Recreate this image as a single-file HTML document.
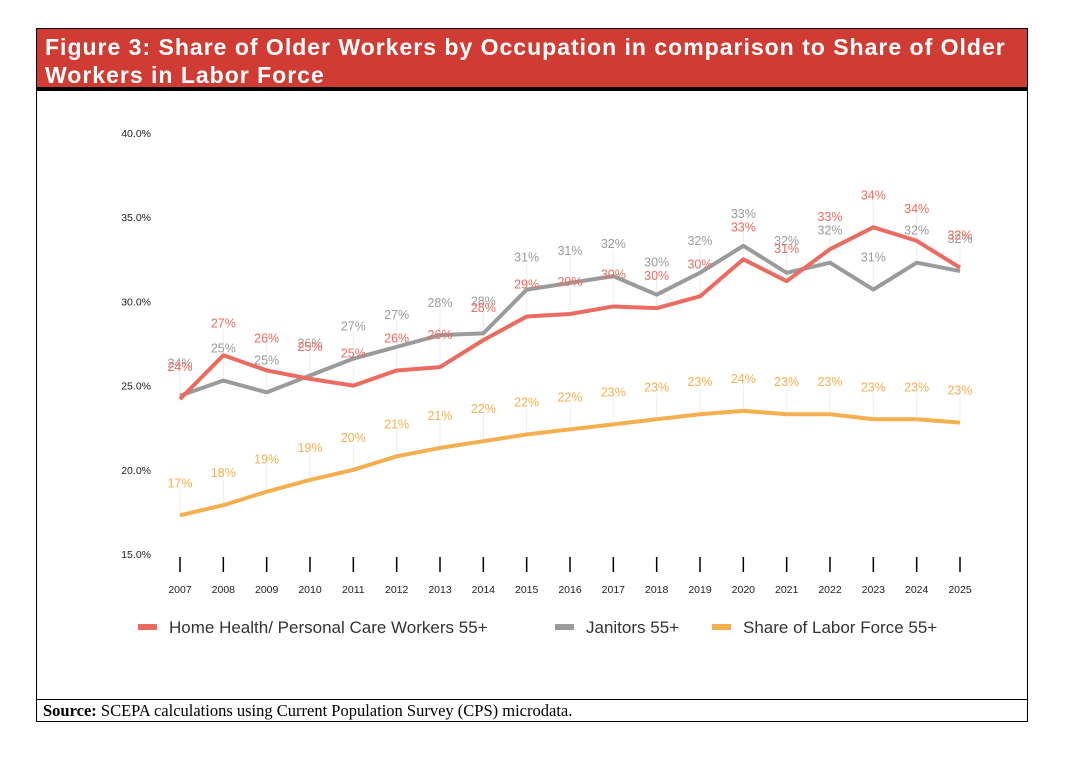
<!DOCTYPE html>
<html><head><meta charset="utf-8"><style>
body{margin:0;width:1068px;height:762px;background:#fff;overflow:hidden;font-family:"Liberation Sans",sans-serif}
#frame{position:absolute;left:36px;top:28px;width:990px;height:692px;border:1.5px solid #000;}
#hdr{position:absolute;left:0;top:0;width:990px;height:62px;background:#d03c33;border-bottom:4px solid #000;color:#fff;font-weight:bold;font-size:23px;line-height:28px;padding:4px 0 0 8px;box-sizing:border-box;letter-spacing:1px}
#src{position:absolute;left:0;top:670px;width:990px;height:22px;border-top:1.5px solid #000;font-family:"Liberation Serif",serif;font-size:16.5px;line-height:22px;padding-left:6px;box-sizing:border-box}
svg{position:absolute;left:0;top:0}
</style></head><body>
<div id="frame">
<div id="hdr">Figure 3: Share of Older Workers by Occupation in comparison to Share of Older<br>Workers in Labor Force</div>
<div id="src"><b>Source:</b> SCEPA calculations using Current Population Survey (CPS) microdata.</div>
</div>
<svg id="chart" width="1068" height="762"></svg>
<script>
const years=[2007,2008,2009,2010,2011,2012,2013,2014,2015,2016,2017,2018,2019,2020,2021,2022,2023,2024,2025];
const homeHealth=[24.2,26.8,25.9,25.4,25.0,25.9,26.1,27.7,29.1,29.25,29.7,29.6,30.3,32.5,31.2,33.1,34.4,33.6,32.0];
const janitors=[24.4,25.3,24.6,25.6,26.6,27.3,28.0,28.1,30.7,31.1,31.5,30.4,31.7,33.3,31.7,32.3,30.7,32.3,31.8];
const laborForce=[17.3,17.9,18.7,19.4,20.0,20.8,21.3,21.7,22.1,22.4,22.7,23.0,23.3,23.5,23.3,23.3,23.0,23.0,22.8];
const yTicks=[15,20,25,30,35,40];
const NS='http://www.w3.org/2000/svg';
const svg=document.getElementById('chart');
const xs=i=>180+i*(780/18);
const ys=v=>554-(v-15)*(421/25);
function mk(t,a){const e=document.createElementNS(NS,t);for(const k in a)e.setAttribute(k,a[k]);svg.appendChild(e);return e;}
yTicks.forEach(v=>{const t=mk('text',{x:151,y:ys(v)+4,'text-anchor':'end','font-size':10.5,fill:'#222'});t.textContent=v.toFixed(1)+'%';

});
years.forEach((y,i)=>{const l=mk('line',{x1:xs(i),x2:xs(i),y1:557,y2:572,stroke:'#000','stroke-width':1.5});


const t=mk('text',{x:xs(i),y:593,'text-anchor':'middle','font-size':10.5,fill:'#222'});t.textContent=y;

});
const series=[[laborForce,'#f4b04f','labor-force'],[janitors,'#9b9b9b','janitors'],[homeHealth,'#ec6b61','home-health']];
series.forEach(([d,c,n])=>{d.forEach((v,i)=>{const l=mk('line',{x1:xs(i),x2:xs(i),y1:ys(v)-26,y2:ys(v),stroke:'#eee','stroke-width':1});

});});
series.forEach(([d,c,n])=>{const p=mk('polyline',{points:d.map((v,i)=>xs(i)+','+ys(v)).join(' '),fill:'none',stroke:c,'stroke-width':4,'stroke-linejoin':'round'});

});
series.forEach(([d,c,n])=>{d.forEach((v,i)=>{const t=mk('text',{x:xs(i),y:ys(v)-28,'text-anchor':'middle','font-size':12.5,fill:c});t.textContent=Math.round(v)+'%';

});});
const leg=[['Home Health/ Personal Care Workers 55+','#ec6b61',138],['Janitors 55+','#9b9b9b',555],['Share of Labor Force 55+','#f4b04f',712]];
leg.forEach(([s,c,x])=>{const r=mk('rect',{x:x,y:624,width:19,height:6,fill:c});


const t=mk('text',{x:x+31,y:633,'font-size':17,fill:'#333'});t.textContent=s;

});
</script>
</body></html>
